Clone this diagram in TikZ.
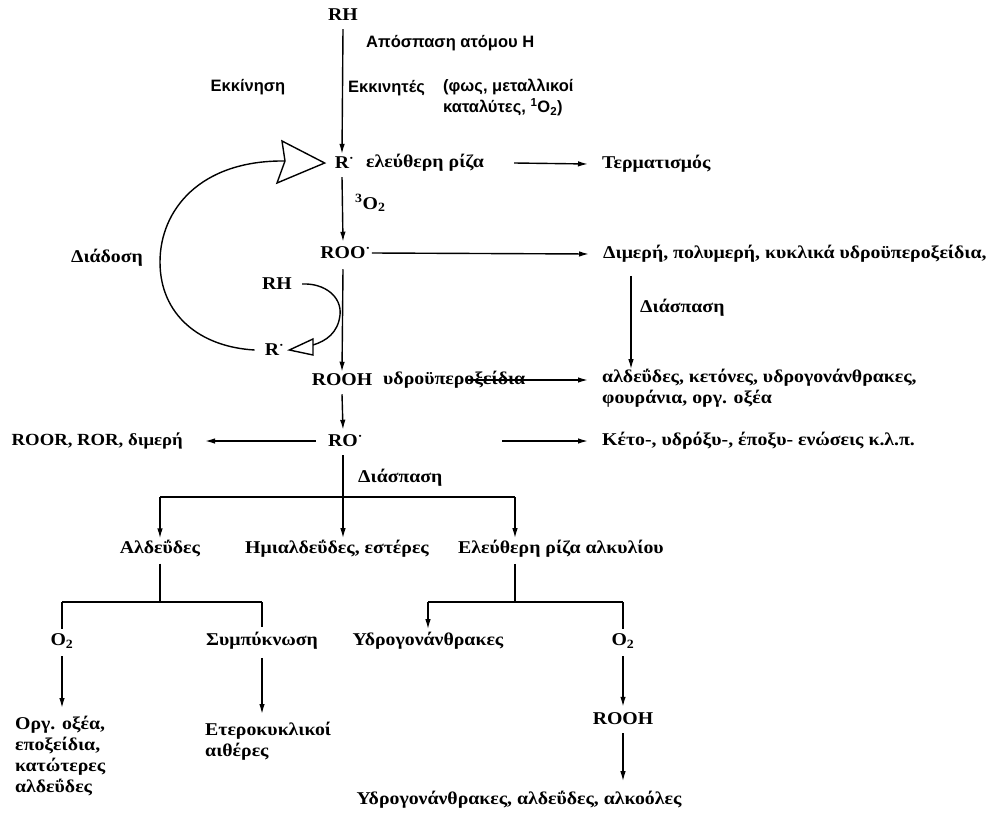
\documentclass[tikz,border=0pt]{standalone}
\usepackage{fontspec}
\setmainfont[FakeStretch=1.1]{Liberation Serif}
\newfontfamily\sansgr{Liberation Sans}
\usetikzlibrary{arrows.meta}
\tikzset{
  arr/.style={line width=1.4pt, -{Latex[length=10pt,width=5.5pt]}},
  ln/.style={line width=1.4pt},
  sf/.style={font=\sansgr\bfseries\fontsize{16.5}{21}\selectfont, inner sep=0pt},
  tx/.style={font=\bfseries\fontsize{18}{21}\selectfont, inner sep=0pt},
}
\newcommand{\rdot}{\rlap{\textsuperscript{·}}}
\begin{document}
\begin{tikzpicture}[x=1pt,y=-1pt]
\useasboundingbox (0,0) rectangle (995,813);
% top
\node[tx] (rh1) at (343,15) {RH};
\node[sf,anchor=west] (apo) at (366,43) {Απόσπαση ατόμου Η};
\node[sf] (ekk) at (248,87) {Εκκίνηση};
\node[sf,anchor=west] (einit) at (348,88) {Εκκινητές};
\node[sf,anchor=north west,align=left] (fos) at (443,79) {(φως, μεταλλικοί\\καταλύτες, \textsuperscript{1}O\textsubscript{2})};
\node[tx] (r1) at (342,163) {R\rdot};
\node[tx,anchor=west] (eleu) at (366,163) {ελεύθερη ρίζα};
\node[tx,anchor=west] (term) at (602,164) {Τερματισμός};
\node[tx,anchor=west] (o3) at (355,203) {\textsuperscript{3}O\textsubscript{2}};
\node[tx] (roo) at (343,253) {ROO\rdot};
\node[tx,anchor=west] (dim) at (603,254) {Διμερή, πολυμερή, κυκλικά υδροϋπεροξείδια,};
\node[tx,anchor=west] (diasp1) at (640,308) {Διάσπαση};
\node[tx] (diad) at (107,258) {Διάδοση};
\node[tx] (rh2) at (277,284) {RH};
\node[tx] (r2) at (272,350) {R\rdot};
\node[tx] (rooh) at (342,380) {ROOH};
\node[tx,anchor=west] (hydro) at (383,380) {υδροϋπεροξείδια};
\node[tx,anchor=west] (alda) at (602,378) {αλδεΰδες, κετόνες, υδρογονάνθρακες,};
\node[tx,anchor=west] (aldb) at (602,399) {φουράνια, οργ. οξέα};
\node[tx] (ro) at (343,441) {RO\rdot};
\node[tx,font=\bfseries\fontsize{17}{21}\selectfont,anchor=east] (roor) at (183,441) {ROOR, ROR, διμερή};
\node[tx,anchor=west] (keto) at (602,441) {Κέτο-, υδρόξυ-, έποξυ- ενώσεις κ.λ.π.};
\node[tx,anchor=west] (diasp2) at (358,478) {Διάσπαση};
\node[tx] (ald) at (160,549) {Αλδεΰδες};
\node[tx] (hemi) at (337,549) {Ημιαλδεΰδες, εστέρες};
\node[tx,anchor=west] (elr) at (458,549) {Ελεύθερη ρίζα αλκυλίου};
\coordinate (elrx) at (515,549);
\node[tx] (o2a) at (62,641) {O\textsubscript{2}};
\node[tx] (symp) at (262,641) {Συμπύκνωση};
\node[tx,anchor=north west,align=left] (org) at (15,716) {Οργ. οξέα,\\εποξείδια,\\κατώτερες\\αλδεΰδες};
\node[tx,anchor=north west,align=left] (eter) at (205,722) {Ετεροκυκλικοί\\αιθέρες};
\node[tx] (ydro) at (428,641) {Υδρογονάνθρακες};
\node[tx] (o2b) at (623,641) {O\textsubscript{2}};
\node[tx] (rooh2) at (623,719) {ROOH};
\node[tx] (final) at (519,800) {Υδρογονάνθρακες, αλδεΰδες, αλκοόλες};
% main chain
\draw[arr] ([yshift=-8pt]rh1.south) -- ([yshift=3pt]r1.north);
\draw[arr] ([yshift=-8pt]r1.south) -- ([yshift=5pt]roo.north);
\draw[arr] ([xshift=6pt]roo.east) -- ([xshift=-14pt]dim.west);
\draw[arr] ([xshift=30pt]eleu.east) -- ([xshift=-14pt]term.west);
\draw[arr] ([yshift=-10pt]roo.south) -- ([yshift=2pt]rooh.north);
\draw[arr] ([xshift=85pt]hydro.west) -- ([xshift=-14pt]hydro.west -| alda.west);
\draw[arr] ([yshift=-8pt]rooh.south) -- ([yshift=5pt]ro.north);
\draw[arr] ([xshift=-12pt]ro.west) -- ([xshift=22pt]roor.east);
\draw[arr] ([xshift=144pt]ro.east) -- ([xshift=-14pt]keto.west);
% Διάσπαση right
\coordinate (dtop) at ([xshift=28pt,yshift=-13pt]dim.south west);
\draw[arr] (dtop) -- (dtop |- alda.north);
% branch from RO
\coordinate (bar) at (0,497);
\draw[ln] (ald.north |- bar) -- (elrx |- bar);
\draw[arr] ([yshift=-8pt]ro.south) -- ([yshift=2pt]ro.south |- hemi.north);
\draw[arr] (ald.north |- bar) -- ([yshift=2pt]ald.north);
\draw[arr] (elrx |- bar) -- ([yshift=2pt]elrx |- elr.north);
% left sub-branch
\coordinate (lb) at (0,602);
\draw[ln] ([yshift=-6pt]ald.south) -- (ald.south |- lb);
\draw[ln] (o2a.north |- lb) -- (symp.north |- lb);
\draw[ln] (o2a.north |- lb) -- ([yshift=5pt]o2a.north);
\draw[ln] (symp.north |- lb) -- ([yshift=5pt]symp.north);
\draw[arr] ([yshift=-8pt]o2a.south) -- ([yshift=8pt]o2a.south |- org.north);
\draw[arr] ([yshift=-8pt]symp.south) -- ([yshift=8pt]symp.south |- eter.north);
% right sub-branch
\coordinate (rb) at (0,602);
\draw[ln] ([yshift=-6pt]elrx |- elr.south) -- (elrx |- rb);
\draw[ln] (ydro.north |- rb) -- (o2b.north |- rb);
\draw[arr] (ydro.north |- rb) -- ([yshift=3pt]ydro.north);
\draw[ln] (o2b.north |- rb) -- ([yshift=5pt]o2b.north);
\draw[arr] ([yshift=-8pt]o2b.south) -- ([yshift=6pt]rooh2.north);
\draw[arr] ([yshift=-8pt]rooh2.south) -- ([yshift=10pt]rooh2.south |- final.north);
% propagation loop
\coordinate (bigback) at (285,161);
\draw[ln,line join=miter] (282,141) -- ([xshift=-10pt]r1.west) -- (277,183) -- (bigback) -- cycle;
\draw[ln] (bigback) .. controls (200,160) and (160,210) .. (160,262)
  .. controls (160,315) and (200,347) .. ([xshift=-10pt]r2.west);
\coordinate (smtip) at ([xshift=10pt]r2.east);
\draw[ln] ([xshift=10pt]rh2.east) .. controls (325,283) and (342,297) .. (340,315)
  .. controls (338,333) and (326,341) .. (313,345);
\draw[ln,line join=miter] (smtip) -- (313,339) -- (313,355) -- cycle;
\end{tikzpicture}
\end{document}
